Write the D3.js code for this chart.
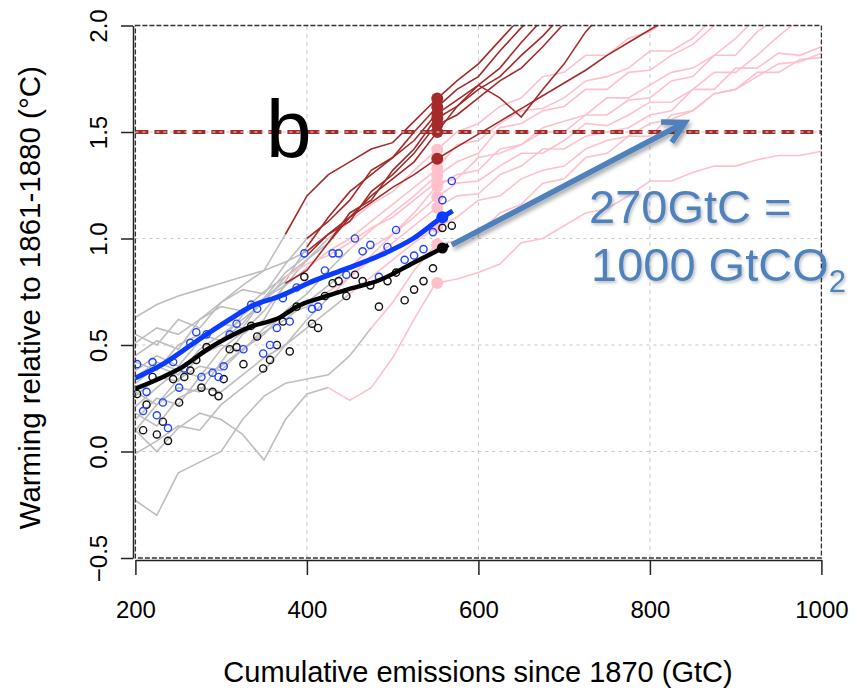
<!DOCTYPE html>
<html>
<head>
<meta charset="utf-8">
<style>
body { margin: 0; background: #fff; }
svg { font-family: "Liberation Sans", Arial, sans-serif; }
</style>
</head>
<body>
<svg width="857" height="694"></svg>
<script src="https://d3js.org/d3.v7.min.js"></script>
<script>
var svg = d3.select("svg");

// cumulative emissions (GtC) that the model runs are sampled on
var grid = [200,225,250,275,300,325,350,375,400,425,450,475,500,525,550,575,600,
            625,650,675,700,725,750,775,800,825,850,875,900,925,950,975,1000];

// runs that are past ~1.4C at today's emissions (brown)
var hotRuns = [
  [0.45,0.52,0.48,0.62,0.70,0.78,0.85,1.02,1.20,1.30,1.36,1.42,1.45,1.55,1.65,1.74,1.82,1.93,2.04],
  [0.26,0.35,0.33,0.45,0.52,0.60,0.72,0.80,0.96,1.10,1.22,1.30,1.38,1.50,1.61,1.70,1.76,1.88,1.99,2.08],
  [0.55,0.50,0.62,0.58,0.70,0.76,0.74,0.88,1.00,1.08,1.18,1.32,1.38,1.46,1.58,1.65,1.72,1.80,1.92,2.03],
  [0.10,0.22,0.30,0.28,0.42,0.55,0.62,0.79,0.85,0.98,1.12,1.18,1.32,1.42,1.56,1.62,1.70,1.76,1.86,1.95,2.06],
  [0.38,0.45,0.40,0.52,0.60,0.58,0.72,0.84,0.92,1.02,1.08,1.22,1.30,1.40,1.53,1.58,1.66,1.74,1.80,1.90,2.01],
  [0.21,0.30,0.38,0.35,0.48,0.56,0.66,0.78,0.90,0.98,1.10,1.20,1.28,1.36,1.49,1.62,1.72,1.66,1.57,1.70,1.82,1.97,2.08],
  [0.63,0.69,0.73,0.76,0.79,0.82,0.85,0.89,0.94,1.02,1.10,1.17,1.24,1.30,1.37,1.43,1.49,1.55,1.61,1.67,1.73,1.79,1.86,1.92,1.98,2.04]
];
var hotSplit = [375, 400, 400, 375, 400, 425, 400];

// the other runs (pink)
var warmRuns = [
  [0.32,0.40,0.36,0.48,0.55,0.62,0.70,0.82,0.90,1.00,1.08,1.16,1.22,1.32,1.41,1.50,1.54,1.62,1.66,1.76,1.78,1.86,1.86,1.94,1.97,2.04],
  [0.42,0.38,0.50,0.55,0.52,0.64,0.72,0.78,0.86,0.94,1.00,1.08,1.16,1.24,1.32,1.44,1.46,1.54,1.60,1.61,1.66,1.74,1.76,1.80,1.88,1.88,1.94,2.04],
  [0.15,0.25,0.22,0.35,0.40,0.48,0.55,0.66,0.74,0.85,0.95,1.04,1.12,1.20,1.29,1.36,1.40,1.52,1.54,1.60,1.62,1.70,1.70,1.78,1.79,1.86,1.91,2.00,2.05],
  [0.51,0.58,0.55,0.62,0.68,0.66,0.75,0.82,0.88,0.92,0.98,1.05,1.10,1.18,1.26,1.28,1.38,1.40,1.44,1.52,1.55,1.58,1.66,1.66,1.72,1.78,1.80,1.86,1.94,2.04],
  [-0.01,0.05,0.12,0.10,0.22,0.30,0.38,0.50,0.62,0.72,0.82,0.92,1.02,1.12,1.24,1.30,1.32,1.42,1.44,1.50,1.50,1.58,1.58,1.65,1.66,1.74,1.76,1.86,1.86,1.97,2.04],
  [0.28,0.22,0.34,0.40,0.38,0.48,0.56,0.62,0.70,0.78,0.86,0.96,1.02,1.10,1.19,1.26,1.27,1.34,1.40,1.40,1.46,1.54,1.53,1.58,1.64,1.64,1.70,1.78,1.78,1.86,1.95,2.03],
  [0.35,0.42,0.38,0.45,0.50,0.47,0.58,0.64,0.68,0.75,0.82,0.90,0.98,1.06,1.14,1.20,1.21,1.30,1.34,1.42,1.42,1.48,1.50,1.52,1.58,1.60,1.70,1.70,1.80,1.80,1.87,1.86,1.90],
  [0.18,0.12,0.25,0.30,0.28,0.36,0.44,0.50,0.58,0.66,0.74,0.82,0.90,0.98,1.05,1.10,1.18,1.20,1.28,1.32,1.34,1.42,1.46,1.48,1.54,1.56,1.60,1.68,1.70,1.76,1.82,1.83,1.87],
  [-0.23,-0.30,-0.10,-0.05,0.00,0.15,0.26,0.32,0.34,0.36,0.45,0.58,0.70,0.85,0.97,0.99,1.02,1.12,1.16,1.26,1.28,1.38,1.40,1.48,1.48,1.58,1.60,1.68,1.70,1.78,1.78,1.84,1.85],
  [0.10,0.00,0.11,0.18,0.15,0.08,-0.04,0.15,0.27,0.30,0.24,0.30,0.44,0.62,0.79,0.81,0.84,0.88,0.98,1.00,1.06,1.12,1.14,1.20,1.27,1.27,1.31,1.34,1.34,1.37,1.39,1.39,1.41]
];
var warmSplit = [425, 400, 450, 375, 425, 450, 425, 450, 475, 425];

// observed warming against cumulative emissions
var obsX = [202,209,213,220,225,232,238,244,251,257,264,271,277,283,290,297,303,310,318,326,
            335,342,349,357,365,372,380,388,397,406,413,421,430,437,446,456,465,474,484,494,
            504,514,525,536,547,558,569];
var obsBlue = [0.41,0.19,0.28,0.42,0.17,0.23,0.11,0.42,0.30,0.39,0.51,0.56,0.35,0.55,0.37,0.35,0.40,0.55,0.60,0.48,
               0.69,0.67,0.46,0.50,0.58,0.72,0.61,0.77,0.93,0.67,0.68,0.85,0.93,0.93,0.83,1.00,0.94,0.97,0.82,0.96,
               1.04,0.90,0.92,0.95,1.03,1.18,1.27];
var obsBlack = [0.27,0.10,0.22,0.35,0.08,0.14,0.05,0.34,0.23,0.35,0.38,0.43,0.30,0.49,0.28,0.26,0.34,0.48,0.49,0.41,
                0.59,0.54,0.39,0.43,0.50,0.61,0.47,0.68,0.82,0.60,0.58,0.73,0.79,0.80,0.73,0.83,0.80,0.78,0.68,0.80,
                0.84,0.71,0.76,0.80,0.86,1.05,1.06];

// smoothed fits through the observations
var fitBlue = [[200,0.345],[232,0.41],[272,0.52],[310,0.62],[334,0.68],[369,0.73],[407,0.80],
               [447,0.86],[485,0.92],[524,1.00],[558,1.10],[570,1.13]];
var fitBlack = [[200,0.295],[232,0.35],[256,0.40],[284,0.48],[310,0.54],[334,0.585],[369,0.63],
                [388,0.68],[419,0.725],[447,0.76],[485,0.805],[524,0.885],[558,0.955],[565,0.97]];
var fitNowX = 558, fitBlueNow = 1.10, fitBlackNow = 0.955;

var runNowX = 552;     // today's cumulative emissions, where the runs get a dot
var limit = 1.5;
var arrowFrom = [569, 0.97], arrowTo = [841, 1.545];

var xTicks = [200, 400, 600, 800, 1000];
var yTicks = [-0.5, 0, 0.5, 1, 1.5, 2];
var xGrid = [400, 600, 800];
var yGrid = [0, 0.5, 1, 1.5];

var x = d3.scaleLinear().domain([200, 1000]).range([135.4, 821.4]);
var y = d3.scaleLinear().domain([-0.5, 2]).range([558, 25.5]);

var defs = svg.append("defs");
defs.append("clipPath").attr("id", "plot")
  .append("rect").attr("x", x(200)).attr("y", y(2)).attr("width", x(1000) - x(200)).attr("height", y(-0.5) - y(2));
defs.append("filter").attr("id", "shadow").attr("x", "-20%").attr("y", "-20%").attr("width", "140%").attr("height", "160%")
  .append("feDropShadow").attr("dx", 2).attr("dy", 3).attr("stdDeviation", 2)
  .attr("flood-color", "#000").attr("flood-opacity", 0.35);
defs.append("filter").attr("id", "tshadow").attr("x", "-10%").attr("y", "-20%").attr("width", "120%").attr("height", "150%")
  .append("feDropShadow").attr("dx", 1.5).attr("dy", 2).attr("stdDeviation", 1.5)
  .attr("flood-color", "#000").attr("flood-opacity", 0.25);

// grid
svg.append("g").selectAll("line").data(xGrid).enter().append("line")
  .attr("x1", d => x(d)).attr("x2", d => x(d)).attr("y1", y(-0.5)).attr("y2", y(2))
  .attr("stroke", "#c8c8c8").attr("stroke-dasharray", "4,4");
svg.append("g").selectAll("line").data(yGrid).enter().append("line")
  .attr("x1", x(200)).attr("x2", x(1000)).attr("y1", d => y(d)).attr("y2", d => y(d))
  .attr("stroke", "#c8c8c8").attr("stroke-dasharray", "3,4");

var line = d3.line().x(d => x(d[0])).y(d => y(d[1]));
var plot = svg.append("g").attr("clip-path", "url(#plot)");

function pts(run) { return run.map((v, i) => [grid[i], v]); }
function before(run, s) { return pts(run).filter(d => d[0] <= s); }
function after(run, s) { return pts(run).filter(d => d[0] >= s); }
function at(run, xv) {
  var i = d3.bisectRight(grid, xv) - 1;
  var t = (xv - grid[i]) / (grid[i + 1] - grid[i]);
  return run[i] + t * (run[i + 1] - run[i]);
}

var allRuns = hotRuns.concat(warmRuns), allSplit = hotSplit.concat(warmSplit);
plot.append("g").selectAll("path").data(allRuns).enter().append("path")
  .attr("d", (r, i) => line(before(r, allSplit[i])))
  .attr("fill", "none").attr("stroke", "#bebebe").attr("stroke-width", 1.6);
plot.append("g").selectAll("path").data(warmRuns).enter().append("path")
  .attr("d", (r, i) => line(after(r, warmSplit[i])))
  .attr("fill", "none").attr("stroke", "#ffc0cb").attr("stroke-width", 1.6);
plot.append("g").selectAll("path").data(hotRuns).enter().append("path")
  .attr("d", (r, i) => line(after(r, hotSplit[i])))
  .attr("fill", "none").attr("stroke", "#a52a2a").attr("stroke-width", 1.6);

// 1.5C line
svg.append("line").attr("x1", x(200)).attr("x2", x(1000)).attr("y1", y(limit)).attr("y2", y(limit))
  .attr("stroke", "#a52a2a").attr("stroke-width", 4).attr("stroke-dasharray", "13,6");
svg.append("line").attr("x1", x(200)).attr("x2", x(1000)).attr("y1", y(limit)).attr("y2", y(limit))
  .attr("stroke", "#e0e0e0").attr("stroke-width", 1.2).attr("stroke-dasharray", "3,4");

// warming of each run at today's emissions
plot.append("g").selectAll("circle").data(warmRuns).enter().append("circle")
  .attr("cx", x(runNowX)).attr("cy", r => y(at(r, runNowX))).attr("r", 6).attr("fill", "#ffc0cb");
plot.append("g").selectAll("circle").data(hotRuns).enter().append("circle")
  .attr("cx", x(runNowX)).attr("cy", r => y(at(r, runNowX))).attr("r", 6).attr("fill", "#a52a2a");

// observations
svg.append("g").selectAll("circle").data(obsX).enter().append("circle")
  .attr("cx", d => x(d)).attr("cy", (d, i) => y(obsBlack[i])).attr("r", 3.6)
  .attr("fill", "none").attr("stroke", "#111").attr("stroke-width", 1.4);
svg.append("g").selectAll("circle").data(obsX).enter().append("circle")
  .attr("cx", d => x(d)).attr("cy", (d, i) => y(obsBlue[i])).attr("r", 3.6)
  .attr("fill", "none").attr("stroke", "#1f45ff").attr("stroke-width", 1.4);

var smooth = d3.line().curve(d3.curveMonotoneX).x(d => x(d[0])).y(d => y(d[1]));
svg.append("path").attr("d", smooth(fitBlack)).attr("fill", "none").attr("stroke", "#000").attr("stroke-width", 4.5);
svg.append("path").attr("d", smooth(fitBlue)).attr("fill", "none").attr("stroke", "#0a3cff").attr("stroke-width", 5);
svg.append("circle").attr("cx", x(fitNowX)).attr("cy", y(fitBlackNow)).attr("r", 5.5).attr("fill", "#000");
svg.append("circle").attr("cx", x(fitNowX)).attr("cy", y(fitBlueNow)).attr("r", 6).attr("fill", "#0a3cff");

// frame and axes
svg.append("rect").attr("x", x(200)).attr("y", y(2)).attr("width", x(1000) - x(200)).attr("height", y(-0.5) - y(2))
  .attr("fill", "none").attr("stroke", "#333").attr("stroke-width", 1.3).attr("stroke-dasharray", "5,2");

var xAxis = svg.append("g").attr("transform", "translate(0,560)")
  .call(d3.axisBottom(x).tickValues(xTicks).tickSize(15).tickSizeOuter(0).tickFormat(d3.format("d")));
xAxis.selectAll("text").attr("y", 58).attr("dy", 0).attr("font-size", 24).attr("fill", "#000")
  .attr("font-family", "Liberation Sans, Arial, sans-serif");

var yAxis = svg.append("g").attr("transform", "translate(133,0)")
  .call(d3.axisLeft(y).tickValues(yTicks).tickSize(12).tickSizeOuter(0).tickFormat(d3.format(".1f")));
yAxis.selectAll("text").attr("x", 0).attr("dy", 0).attr("text-anchor", "middle")
  .attr("transform", "translate(-26,0) rotate(-90)")
  .attr("font-size", 24).attr("fill", "#000").attr("font-family", "Liberation Sans, Arial, sans-serif");
svg.selectAll(".domain, .tick line").attr("stroke", "#222").attr("stroke-width", 1.5);

svg.append("text").attr("x", 478).attr("y", 682).attr("text-anchor", "middle")
  .attr("font-size", 29).text("Cumulative emissions since 1870 (GtC)");
svg.append("text").attr("transform", "translate(40," + ((y(2) + y(-0.5)) / 2 + 6) + ") rotate(-90)")
  .attr("text-anchor", "middle").attr("font-size", 29.5).text("Warming relative to 1861-1880 (\u00b0C)");

// annotation
var ax0 = x(arrowFrom[0]), ay0 = y(arrowFrom[1]), ax1 = x(arrowTo[0]), ay1 = y(arrowTo[1]);
var ang = Math.atan2(ay1 - ay0, ax1 - ax0), hl = 24, ha = 0.5;
var arrow = svg.append("g").attr("filter", "url(#shadow)").attr("stroke", "#4f81bd")
  .attr("stroke-width", 5.5).attr("fill", "none");
arrow.append("line").attr("x1", ax0).attr("y1", ay0).attr("x2", ax1 - 3 * Math.cos(ang)).attr("y2", ay1 - 3 * Math.sin(ang));
arrow.append("path").attr("stroke-linejoin", "miter")
  .attr("d", "M" + (ax1 - hl * Math.cos(ang - ha)) + "," + (ay1 - hl * Math.sin(ang - ha)) +
             "L" + ax1 + "," + ay1 +
             "L" + (ax1 - hl * Math.cos(ang + ha)) + "," + (ay1 - hl * Math.sin(ang + ha)));

var note = svg.append("g").attr("filter", "url(#tshadow)").attr("fill", "#4f81bd").attr("font-size", 47);
note.append("text").attr("x", 589).attr("y", 223).text("270GtC =");
var l2 = note.append("text").attr("x", 591).attr("y", 281).text("1000 GtCO");
l2.append("tspan").attr("font-size", 31).attr("dy", 11).text("2");

svg.append("text").attr("x", 266).attr("y", 157).attr("font-size", 82).attr("fill", "#000").text("b");
</script>
</body>
</html>
